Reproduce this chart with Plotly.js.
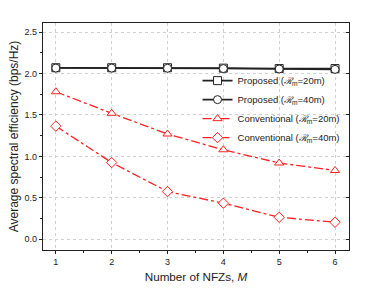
<!DOCTYPE html>
<html><head><meta charset="utf-8">
<script src="https://cdn.plot.ly/plotly-3.0.1.min.js"></script>
<style>body{margin:0}#c{width:374px;height:288px}</style>
</head><body><div id="c"></div>
<script>
const M = [1, 2, 3, 4, 5, 6];
const proposed20 = [2.07, 2.07, 2.07, 2.065, 2.06, 2.06];
const proposed40 = [2.066, 2.066, 2.064, 2.06, 2.055, 2.05];
const conv20 = [1.78, 1.52, 1.27, 1.08, 0.92, 0.83];
const conv40 = [1.365, 0.925, 0.575, 0.435, 0.265, 0.205];
const names = [
  'Proposed (<i>ℛ</i><sub>m</sub>=20m)',
  'Proposed (<i>ℛ</i><sub>m</sub>=40m)',
  'Conventional (<i>ℛ</i><sub>m</sub>=20m)',
  'Conventional (<i>ℛ</i><sub>m</sub>=40m)'
];
function tr(y, name, color, dash, symbol, w) {
  return {x: M, y: y, name: name, type: 'scatter', mode: 'lines+markers',
    line: {color: color, width: w, dash: dash},
    marker: {symbol: symbol, size: 8, color: 'white', line: {color: color, width: 1}}};
}
const data = [
  tr(proposed20, names[0], '#222', 'solid', 'square', 1.6),
  tr(proposed40, names[1], '#222', 'solid', 'circle', 1.6),
  tr(conv20, names[2], '#ff2020', 'dashdot', 'triangle-up', 1.3),
  tr(conv40, names[3], '#ff2020', 'dashdot', 'diamond', 1.3)
];
data.push({x: [1], y: [0], yaxis: 'y2', xaxis: 'x', showlegend: false, mode: 'markers', marker: {opacity: 0}, hoverinfo: 'skip'});
const font = {family: 'Liberation Sans, Arial, sans-serif', color: '#222'};
const layout = {
  width: 374, height: 288,
  margin: {l: 43, r: 25, t: 23, b: 38},
  paper_bgcolor: 'white', plot_bgcolor: 'white',
  font: font,
  showlegend: true,
  legend: {x: 0.505, y: 0.81, xanchor: 'left', yanchor: 'top', bgcolor: 'rgba(0,0,0,0)',
    font: {size: 9.5, family: font.family, color: '#222'}, tracegroupgap: 0, itemwidth: 30},
  xaxis: {range: [0.77, 6.25], tickvals: M, ticks: 'outside', ticklen: 3, tickcolor: '#222',
    showline: true, linecolor: '#222', linewidth: 1.2, mirror: true,
    showgrid: true, gridcolor: '#d0d0d0', griddash: 'dot', gridwidth: 1, zeroline: false,
    tickfont: {size: 9}, minor: {dtick: 0.5, tick0: 0.5, ticks: 'outside', ticklen: 2, tickcolor: '#222', showgrid: false},
    title: {text: 'Number of NFZs, <i>M</i>', font: {size: 11.7}, standoff: 6}},
  yaxis: {range: [-0.13, 2.61], dtick: 0.5, tick0: 0, ticks: 'outside', ticklen: 3, tickcolor: '#222',
    showline: true, linecolor: '#222', linewidth: 1.2, mirror: true,
    showgrid: true, gridcolor: '#d0d0d0', griddash: 'dot', gridwidth: 1, zeroline: false,
    tickformat: '.1f', tickfont: {size: 9},
    minor: {dtick: 0.25, tick0: 0, ticks: 'outside', ticklen: 2, tickcolor: '#222', showgrid: false},
    title: {text: 'Average spectral efficiency (bps/Hz)', font: {size: 12}, standoff: 3}},
  yaxis2: {overlaying: 'y', side: 'right', range: [-0.13, 2.61], dtick: 0.5, tick0: 0,
    ticks: 'inside', ticklen: 3, tickcolor: '#222', showticklabels: false, showgrid: false, zeroline: false,
    showline: false}
};
Plotly.newPlot('c', data, layout, {staticPlot: true, displayModeBar: false});
</script></body></html>
